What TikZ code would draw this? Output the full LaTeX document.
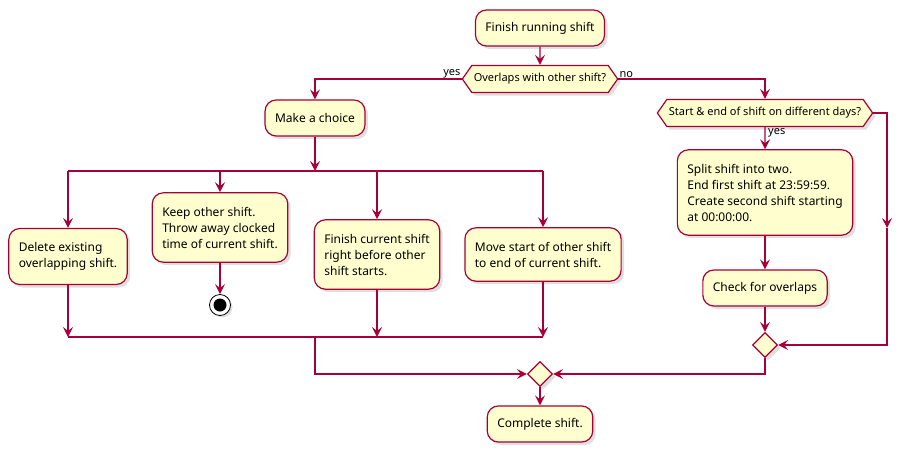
\documentclass[tikz,border=0pt]{standalone}
\usepackage{fontspec}
\setmainfont{Noto Sans}
\usetikzlibrary{arrows.meta,shapes.geometric,shapes.symbols,shadows}
\definecolor{umlred}{HTML}{A80036}
\definecolor{umlfill}{HTML}{FEFECE}

\begin{document}
\begin{tikzpicture} [x=1pt, y=-1pt,
      flow/.style={umlred, line width=1.4pt, -{Stealth[length=10pt, width=10pt, inset=4pt]}},
      bar/.style={umlred, line width=1.4pt},
      act/.style={draw=umlred, fill=umlfill, line width=1.2pt, rounded corners=11pt,
                  align=left, inner xsep=10pt, inner ysep=10.5pt, minimum height=36pt,
                  font=\fontsize{12}{16}\selectfont,
                  drop shadow={opacity=0.25, shadow xshift=3pt, shadow yshift=-3pt}},
      tall/.style={act, inner ysep=14pt},
      choice/.style={draw=umlred, fill=umlfill, line width=1.2pt, signal,
                  signal to=east and west, signal pointer angle=110,
                  inner xsep=2pt, inner ysep=4pt, minimum height=27pt,
                  font=\fontsize{11}{13}\selectfont,
                  drop shadow={opacity=0.25, shadow xshift=3pt, shadow yshift=-3pt}},
      merge/.style={draw=umlred, fill=umlfill, line width=1.2pt, diamond,
                  inner sep=0pt, minimum size=25pt,
                  drop shadow={opacity=0.25, shadow xshift=3pt, shadow yshift=-3pt}},
      lab/.style={font=\fontsize{11}{13}\selectfont, inner sep=1pt}]
    \useasboundingbox (0,0) rectangle (912,452);

    \node[act] (start) at (540,28) {Finish running shift};
    \node[choice] (overlap) at (540,79) {Overlaps with other shift?};
    \node[act] (pick) at (315,118) {Make a choice};

    \node[tall] (delete) at (68,256.5) {Delete existing\\overlapping shift.};
    \node[tall] (keep) at (220,227.5) {Keep other shift.\\Throw away clocked\\time of current shift.};
    \node[tall] (finish) at (377,254.5) {Finish current shift\\right before other\\shift starts.};
    \node[tall] (move) at (543,254.5) {Move start of other shift\\to end of current shift.};
    \node[circle, draw=black, fill=white, line width=0.8pt, minimum size=21pt,
          drop shadow={opacity=0.25, shadow xshift=2pt, shadow yshift=-2pt}] (stop) at (220,305) {};
    \fill (stop.center) circle (6.5);

    \node[choice] (days) at (765,113) {Start \& end of shift on different days?};
    \node[tall] (split) at (765,192.5) {Split shift into two.\\End first shift at 23:59:59.\\Create second shift starting\\at 00:00:00.};
    \node[act] (check) at (765,288) {Check for overlaps};
    \node[merge] (join2) at (765,345) {};
    \node[merge] (join1) at (540,374) {};
    \node[act] (done) at (540,424) {Complete shift.};

    % fork and join bars
    \coordinate (fork) at (315,171);
    \coordinate (sync) at (315,337);
    \coordinate (skip) at (887,228);
    \draw[bar] (68,171) -- (543,171);
    \draw[bar] (68,337) -- (543,337);

    \draw[flow] (start) -- (overlap);
    \draw[flow] (overlap.west) -| (pick.north);
    \node[lab, anchor=south east] at (overlap.west) {yes};
    \draw[flow] (overlap.east) -| (days.north);
    \node[lab, anchor=south west] at (overlap.east) {no};
    \draw[flow] (pick) -- (fork);

    \draw[flow] (fork -| delete) -- (delete);
    \draw[flow] (fork -| keep) -- (keep);
    \draw[flow] (fork -| finish) -- (finish);
    \draw[flow] (fork -| move) -- (move);
    \draw[flow] (delete) -- (sync -| delete);
    \draw[flow] (keep) -- (stop);
    \draw[flow] (finish) -- (sync -| finish);
    \draw[flow] (move) -- (sync -| move);
    \draw[flow] (sync) |- (join1.west);

    \draw[flow] (days) -- (split);
    \node[lab, anchor=north west] at ([xshift=2pt]days.south) {yes};
    \draw[flow] (split) -- (check);
    \draw[flow] (check) -- (join2);
    \draw[flow] (days.east) -| (skip);
    \draw[flow] (skip) |- (join2.east);
    \draw[flow] (join2.south) |- (join1.east);
    \draw[flow] (join1) -- (done);
\end{tikzpicture}
\end{document}
